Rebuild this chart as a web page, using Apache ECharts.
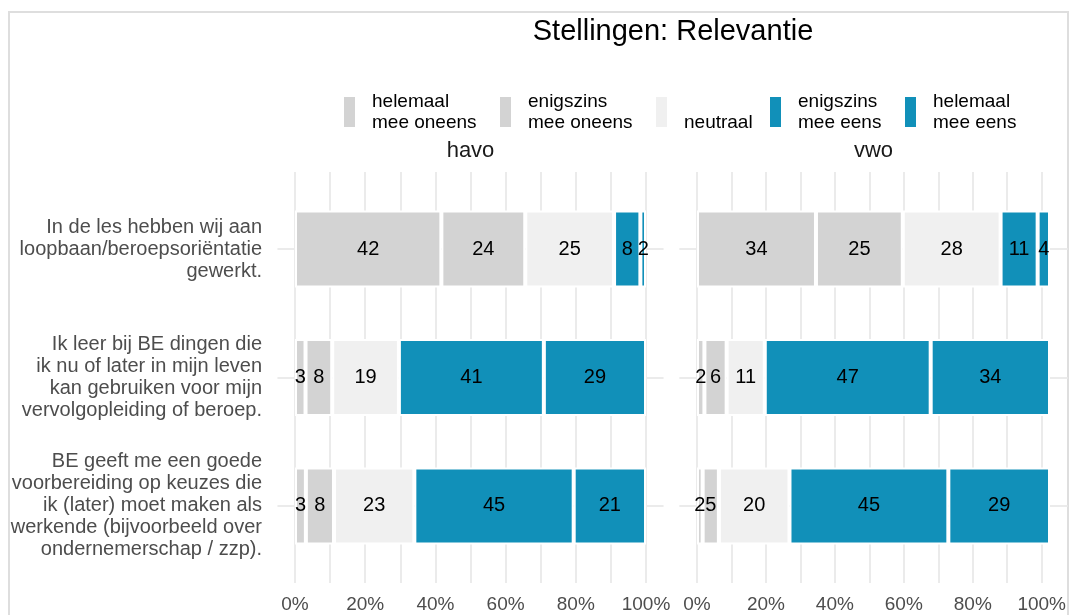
<!DOCTYPE html>
<html>
<head>
<meta charset="utf-8">
<script src="https://cdn.jsdelivr.net/npm/echarts@6/dist/echarts.min.js"></script>
<style>
html,body{margin:0;padding:0;background:#fff;}
#chart{width:1069px;height:615px;}
</style>
</head>
<body>
<div id="chart"></div>
<script>
// ---- data ----
const categories = [
  "In de les hebben wij aan\nloopbaan/beroepsoriëntatie\ngewerkt.",
  "Ik leer bij BE dingen die\nik nu of later in mijn leven\nkan gebruiken voor mijn\nvervolgopleiding of beroep.",
  "BE geeft me een goede\nvoorbereiding op keuzes die\nik (later) moet maken als\nwerkende (bijvoorbeeld over\nondernemerschap / zzp)."
];
const levels = ["helemaal mee oneens", "enigszins mee oneens", "neutraal", "enigszins mee eens", "helemaal mee eens"];
const legendLabels = ["helemaal\nmee oneens", "enigszins\nmee oneens", "\nneutraal", "enigszins\nmee eens", "helemaal\nmee eens"];
const facets = ["havo", "vwo"];
const xTickValues = [0, 20, 40, 60, 80, 100];

const havoHelemaalOneens = [41.7, 3.0, 3.1];
const havoEnigszinsOneens = [23.9, 7.6, 8.0];
const havoNeutraal = [25.3, 19.0, 22.9];
const havoEnigszinsEens = [7.5, 41.3, 45.4];
const havoHelemaalEens = [1.6, 29.1, 20.6];

const vwoHelemaalOneens = [33.7, 2.1, 1.6];
const vwoEnigszinsOneens = [24.6, 6.3, 4.6];
const vwoNeutraal = [27.7, 10.8, 20.0];
const vwoEnigszinsEens = [10.5, 47.0, 45.0];
const vwoHelemaalEens = [3.5, 33.8, 28.8];

const facetData = [
  [havoHelemaalOneens, havoEnigszinsOneens, havoNeutraal, havoEnigszinsEens, havoHelemaalEens],
  [vwoHelemaalOneens, vwoEnigszinsOneens, vwoNeutraal, vwoEnigszinsEens, vwoHelemaalEens]
];

// ---- styles ----
const colors = ["#D3D3D3", "#D3D3D3", "#F0F0F0", "#1190B9", "#1190B9"];
const FONT = "'Liberation Sans', Arial, sans-serif";
const GRID_COLOR = "#EBEBEB";
const panels = [{x0: 295, x1: 646}, {x0: 697, x1: 1050}];
const PANEL_TOP = 172, PANEL_BOTTOM = 583;
const band = (PANEL_BOTTOM - PANEL_TOP) / 3.2;

const grids = [], xAxes = [], yAxes = [], series = [];
panels.forEach((p, f) => {
  const w = p.x1 - p.x0;
  const ext = w * 0.05;
  // bar grid
  grids.push({left: p.x0, width: w, top: PANEL_TOP + 0.1 * band, height: 3 * band});
  // vertical gridlines grid
  grids.push({left: p.x0, width: w, top: PANEL_TOP, height: PANEL_BOTTOM - PANEL_TOP});
  // horizontal gridlines grid
  grids.push({left: p.x0 - ext, width: w + 2 * ext, top: PANEL_TOP + 0.6 * band, height: 2 * band});
  const g = f * 3;
  // bar axes
  xAxes.push({gridIndex: g, type: 'value', min: 0, max: 100, show: false});
  yAxes.push({gridIndex: g, type: 'category', data: categories, inverse: true,
    axisLine: {show: false}, axisTick: {show: false}, splitLine: {show: false},
    axisLabel: {show: f === 0, fontFamily: FONT, fontSize: 20, lineHeight: 22, color: '#4D4D4D', align: 'right', margin: 33}});
  // vertical gridlines + tick labels
  xAxes.push({gridIndex: g + 1, type: 'value', min: 0, max: 100, interval: 20,
    axisLine: {show: false}, axisTick: {show: false},
    splitLine: {show: true, lineStyle: {color: GRID_COLOR, width: 2}},
    minorTick: {show: false, splitNumber: 2},
    minorSplitLine: {show: true, lineStyle: {color: GRID_COLOR, width: 2}},
    axisLabel: {fontFamily: FONT, fontSize: 19, color: '#4D4D4D', margin: 12, formatter: v => v + '%',
      customValues: xTickValues}});
  yAxes.push({gridIndex: g + 1, type: 'value', show: false, splitLine: {show: false}});
  // horizontal gridlines
  xAxes.push({gridIndex: g + 2, type: 'value', show: false, splitLine: {show: false}});
  yAxes.push({gridIndex: g + 2, type: 'value', min: 1, max: 3, interval: 1,
    axisLine: {show: false}, axisTick: {show: false}, axisLabel: {show: false},
    splitLine: {show: true, lineStyle: {color: GRID_COLOR, width: 2}}});

  levels.forEach((lv, i) => {
    series.push({
      name: lv, type: 'bar', stack: facets[f], xAxisIndex: f * 3, yAxisIndex: f * 3,
      data: facetData[f][i], barWidth: 0.6 * band,
      itemStyle: {color: colors[i], borderColor: '#fff', borderWidth: 2},
      label: {show: true, position: 'inside', fontFamily: FONT, fontSize: 20, color: '#000',
        formatter: p => String(Math.round(p.value))},
      labelLayout: {hideOverlap: false},
      z: 3
    });
  });
});

const legendLefts = [342, 498, 654, 768, 903];
const legends = levels.map((lv, i) => ({
  data: [lv], left: legendLefts[i] - 5, top: 86, orient: 'horizontal',
  icon: 'rect', itemWidth: 13, itemHeight: 32, selectedMode: false,
  formatter: () => legendLabels[i],
  textStyle: {fontFamily: FONT, fontSize: 19, lineHeight: 21, color: '#000', padding: [0, 0, 0, 11]}
}));

const chart = echarts.init(document.getElementById('chart'), null, {renderer: 'canvas'});
chart.setOption({
  animation: false,
  backgroundColor: '#fff',
  grid: grids, xAxis: xAxes, yAxis: yAxes, series: series, legend: legends,
  graphic: [
    {type: 'rect', shape: {x: 9, y: 12, width: 1059, height: 700}, style: {fill: 'none', stroke: '#DEDEDE', lineWidth: 2}, silent: true, z: -10},
    {type: 'text', x: 673, y: 32, style: {text: 'Stellingen: Relevantie', fontFamily: FONT, fontSize: 29, fill: '#000', textAlign: 'center', textVerticalAlign: 'middle'}},
    {type: 'text', x: (panels[0].x0 + panels[0].x1) / 2, y: 151, style: {text: facets[0], fontFamily: FONT, fontSize: 22, fill: '#1A1A1A', textAlign: 'center', textVerticalAlign: 'middle'}},
    {type: 'text', x: (panels[1].x0 + panels[1].x1) / 2, y: 151, style: {text: facets[1], fontFamily: FONT, fontSize: 22, fill: '#1A1A1A', textAlign: 'center', textVerticalAlign: 'middle'}}
  ]
});
</script>
</body>
</html>
